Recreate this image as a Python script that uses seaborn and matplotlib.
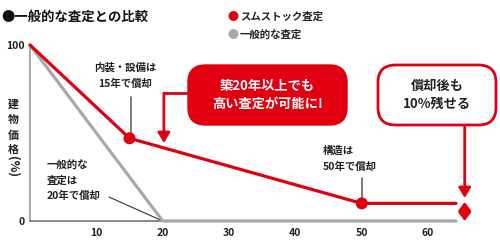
import matplotlib
matplotlib.use("Agg")
import matplotlib.pyplot as plt
import seaborn as sns
import pandas as pd
from matplotlib.patches import FancyBboxPatch

sns.set_theme(style="white")
plt.rcParams['font.family'] = ['Noto Sans CJK JP', 'DejaVu Sans']

RED = "#e0000f"
GRAY = "#a8a8a8"
DARK = "#222222"

smu_years = [0, 15, 50, 64.2]
smu_values = [100, 47, 10, 10]
gen_years = [0, 20, 64.2]
gen_values = [100, 0, 0]
marker_years_smu = [15, 50]
marker_values_smu = [47, 10]
xticks = [10, 20, 30, 40, 50, 60]
yticks = [0, 100]

fig = plt.figure(figsize=(5.0, 2.41), dpi=100)
ax = fig.add_axes([30/500, 20/241, 426/500, 176/241])

df_gen = pd.DataFrame({"x": gen_years, "y": gen_values})
df_smu = pd.DataFrame({"x": smu_years, "y": smu_values})
sns.lineplot(data=df_gen, x="x", y="y", ax=ax, color=GRAY, lw=2.3, clip_on=False, zorder=3)
sns.lineplot(data=df_smu, x="x", y="y", ax=ax, color=RED, lw=2.3, clip_on=False, zorder=4)
sns.scatterplot(x=marker_years_smu, y=marker_values_smu, ax=ax, color=RED, s=75,
                edgecolor="none", zorder=5, clip_on=False)

ax.set_xlim(0, 64.2)
ax.set_ylim(0, 100)
ax.set_xticks(xticks)
ax.set_yticks(yticks)
ax.set_xticklabels([str(t) for t in xticks], fontsize=7.5, fontweight="bold", color=DARK)
ax.set_yticklabels([str(t) for t in yticks], fontsize=7.5, fontweight="bold", color=DARK)
ax.tick_params(axis="x", direction="in", length=5, width=1, color="#555555", pad=5)
ax.tick_params(axis="y", length=0, pad=4)
for s in ["top", "right"]:
    ax.spines[s].set_visible(False)
ax.spines["left"].set_color("#999999")
ax.spines["bottom"].set_color("#777777")
ax.spines["left"].set_linewidth(1.2)
ax.spines["bottom"].set_linewidth(1.2)
ax.set_xlabel("")
ax.set_ylabel("")

# Title
fig.text(0.002, 1 - 17/241, "●一般的な査定との比較", fontsize=9.6, fontweight="bold",
         color="#111111", va="center", ha="left")

# Legend
fig.text(227/500, 1 - 17/241, "●", color=RED, fontsize=8, va="center", ha="left")
fig.text(240/500, 1 - 17/241, "スムストック査定", color=DARK, fontsize=7.5, fontweight="bold", va="center", ha="left")
fig.text(227/500, 1 - 35/241, "●", color=GRAY, fontsize=8, va="center", ha="left")
fig.text(240/500, 1 - 35/241, "一般的な査定", color=DARK, fontsize=7.5, fontweight="bold", va="center", ha="left")

# Y label (vertical, one character per line)
for ch, py in zip("建物価格", [104, 120, 135, 150]):
    fig.text(13/500, 1 - py/241, ch, fontsize=7.8, fontweight="bold", color=DARK,
             ha="center", va="center")
fig.text(13/500, 1 - 166/241, "(%)", fontsize=8.8, fontweight="bold", color=DARK,
         ha="center", va="center", rotation=-90)

def px2d(px, py):
    return ((px - 30) / 6.64, (221 - py) / 1.76)

# Annotation: 内装・設備は 15年で償却
tx, ty = px2d(125, 76)
ax.text(tx, ty, "内装・設備は\n15年で償却", fontsize=7.5, fontweight="bold", color=DARK,
        ha="center", va="center", linespacing=1.7)
x0, y0 = px2d(131, 97)
ax.plot([x0, x0], [y0, 47], color="#666666", lw=1.2, zorder=2, clip_on=False)

# Annotation: 一般的な査定は20年で償却
tx, ty = px2d(47, 181)
ax.text(tx, ty, "一般的な\n査定は\n20年で償却", fontsize=7.5, fontweight="bold", color=DARK,
        ha="left", va="center", linespacing=1.6)
x1, y1 = px2d(109, 197)
ax.plot([x1, 20], [y1, 0], color="#333333", lw=0.8, zorder=2)

# Annotation: 構造は 50年で償却
tx, ty = px2d(323, 159)
ax.text(tx, ty, "構造は\n50年で償却", fontsize=7.5, fontweight="bold", color=DARK,
        ha="left", va="center", linespacing=1.7)
x2, y2 = px2d(362, 178)
ax.plot([50, 50], [y2, 10], color="#666666", lw=1.2, zorder=2)

# Red box
bx0, by0 = 188 / 500, 1 - 125 / 241
bw, bh = (347 - 188) / 500, 60 / 241
box = FancyBboxPatch((bx0, by0), bw, bh, boxstyle="round,pad=0,rounding_size=0.035",
                     transform=fig.transFigure, facecolor=RED, edgecolor=RED, lw=1, mutation_aspect=2.07)
fig.patches.append(box)
fig.text(bx0 + bw / 2, by0 + bh / 2, "築20年以上でも\n高い査定が可能に!", color="white",
         fontsize=9.5, fontweight="bold", ha="center", va="center", linespacing=1.3)

# Elbow arrow from red box
ax.plot([px2d(188, 93)[0], px2d(164, 93)[0]], [px2d(188, 93)[1]] * 2, color=RED, lw=2,
        clip_on=False, solid_capstyle="butt")
ax.annotate("", xy=px2d(164, 143), xytext=px2d(164, 93),
            arrowprops=dict(arrowstyle="-|>,head_width=0.3,head_length=0.5", color=RED, lw=2,
                            shrinkA=0, shrinkB=0), annotation_clip=False)

# White box with red border
wx0, wy0 = 378 / 500, 1 - 125 / 241
ww, wh = (496 - 378) / 500, 60 / 241
wbox = FancyBboxPatch((wx0, wy0), ww, wh, boxstyle="round,pad=0,rounding_size=0.035",
                      transform=fig.transFigure, facecolor="white", edgecolor=RED, lw=2, mutation_aspect=2.07)
fig.patches.append(wbox)
fig.text(wx0 + ww / 2, wy0 + wh / 2, "償却後も\n10%残せる", color=DARK,
         fontsize=9.5, fontweight="bold", ha="center", va="center", linespacing=1.3)

ax.annotate("", xy=px2d(465, 198), xytext=px2d(465, 125),
            arrowprops=dict(arrowstyle="-|>,head_width=0.3,head_length=0.5", color=RED, lw=2,
                            shrinkA=0, shrinkB=0), annotation_clip=False)
ax.annotate("", xy=px2d(465, 221), xytext=px2d(465, 202),
            arrowprops=dict(arrowstyle="<|-|>,head_width=0.3,head_length=0.4", color=RED, lw=2,
                            shrinkA=0, shrinkB=0), annotation_clip=False)

fig.savefig("out.png", dpi=100)
